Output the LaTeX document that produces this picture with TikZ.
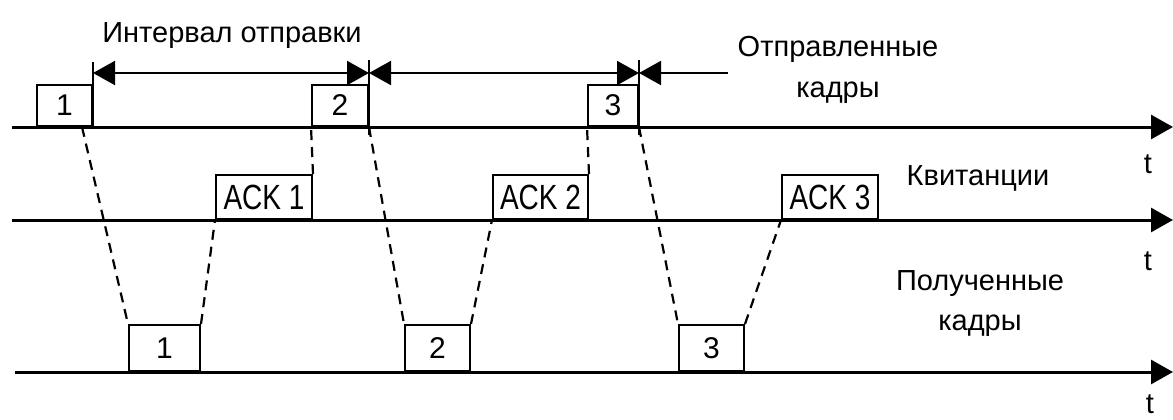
\documentclass[tikz,border=0pt]{standalone}
\usepackage{fontspec}
\usepackage{graphicx}
\setmainfont{Liberation Sans}
\usetikzlibrary{arrows.meta}
\tikzset{
  lbl/.style={font=\fontsize{29}{40}\selectfont, inner sep=0pt},
  frm/.style={draw, line width=2pt, anchor=south west, inner sep=0pt, font=\fontsize{30}{40}\selectfont},
  axis/.style={line width=3pt, -{Triangle[length=22pt,width=24pt]}},
  conn/.style={line width=2.2pt, dash pattern=on 10pt off 7pt},
  ext/.style={line width=2pt},
  dim/.style={line width=2pt},
}
\begin{document}
\begin{tikzpicture}[x=1pt,y=-1pt]
\useasboundingbox[fill=white] (0,0) rectangle (1173,420);
% time axes
\coordinate (l1s) at (12,127);  \coordinate (l1e) at (1173,127);
\coordinate (l2s) at (12,220);  \coordinate (l2e) at (1173,220);
\coordinate (l3s) at (15,372);  \coordinate (l3e) at (1173,372);
% sent frames
\node[frm, minimum width=55pt, minimum height=41pt] (s1) at (36,127) {1};
\node[frm, minimum width=56pt, minimum height=41pt] (s2) at (311,127) {2};
\node[frm, minimum width=50pt, minimum height=41pt] (s3) at (587,127) {3};
% acks
\node[frm, minimum width=96pt, minimum height=44pt] (a1) at (215,220) {\scalebox{0.8}[1]{\fontsize{35}{40}\selectfont ACK 1}};
\node[frm, minimum width=95pt, minimum height=44pt] (a2) at (492,220) {\scalebox{0.8}[1]{\fontsize{35}{40}\selectfont ACK 2}};
\node[frm, minimum width=96pt, minimum height=44pt] (a3) at (781,220) {\scalebox{0.8}[1]{\fontsize{35}{40}\selectfont ACK 3}};
% received frames
\node[frm, minimum width=71pt, minimum height=46pt] (r1) at (128,372) {1};
\node[frm, minimum width=65pt, minimum height=46pt] (r2) at (404,372) {2};
\node[frm, minimum width=65pt, minimum height=46pt] (r3) at (678,372) {3};
\draw[axis] (l1s) -- (l1e);
\draw[axis] (l2s) -- (l2e);
\draw[axis] (l3s) -- (l3e);
% extension lines and dimension arrows
\coordinate (e1) at ([yshift=65pt]s1.south east);
\coordinate (e2) at ([yshift=67pt]s2.south east);
\coordinate (e3) at ([yshift=67pt]s3.south east);
\draw[ext] (s1.south east) -- (e1);
\draw[ext] ([yshift=-8pt]s2.south east) -- (e2);
\draw[ext] ([yshift=-8pt]s3.south east) -- (e3);
\coordinate (m1) at ([yshift=54pt]s1.south east);
\coordinate (m2) at ([yshift=54pt]s2.south east);
\coordinate (m3) at ([yshift=54pt]s3.south east);
\coordinate (m4) at (728,73);
\draw[dim, {Triangle[length=22pt,width=24pt]}-{Triangle[length=22pt,width=24pt]}] (m1) -- (m2);
\draw[dim, {Triangle[length=22pt,width=24pt]}-{Triangle[length=22pt,width=24pt]}] (m2) -- (m3);
\draw[dim, -{Triangle[length=22pt,width=24pt]}] (m4) -- (m3);
% dashed connectors
\draw[conn] ([xshift=-11pt]s1.south east) -- (r1.north west);
\draw[conn] (r1.north east) -- (a1.south west);
\draw[conn] (s2.south east) -- (r2.north west);
\draw[conn] (r2.north east) -- (a2.south west);
\draw[conn] (s3.south east) -- (r3.north west);
\draw[conn] (r3.north east) -- (a3.south west);
\draw[conn] (a1.north east) -- (s2.south west);
\draw[conn] (a2.north east) -- (s3.south west);
% labels
\node[lbl, anchor=base] (tint) at (232,43) {Интервал отправки};
\node[lbl, anchor=base, align=center] (tsent) at (838,97) {Отправленные\\кадры};
\node[lbl, anchor=base] (tack) at (978,185) {Квитанции};
\node[lbl, anchor=base, align=center] (trecv) at (980,330) {Полученные\\кадры};
\node[lbl, anchor=base] (t1) at (1148,173) {t};
\node[lbl, anchor=base] (t2) at (1148,270) {t};
\node[lbl, anchor=base] (t3) at (1150,413) {t};
\end{tikzpicture}
\end{document}
